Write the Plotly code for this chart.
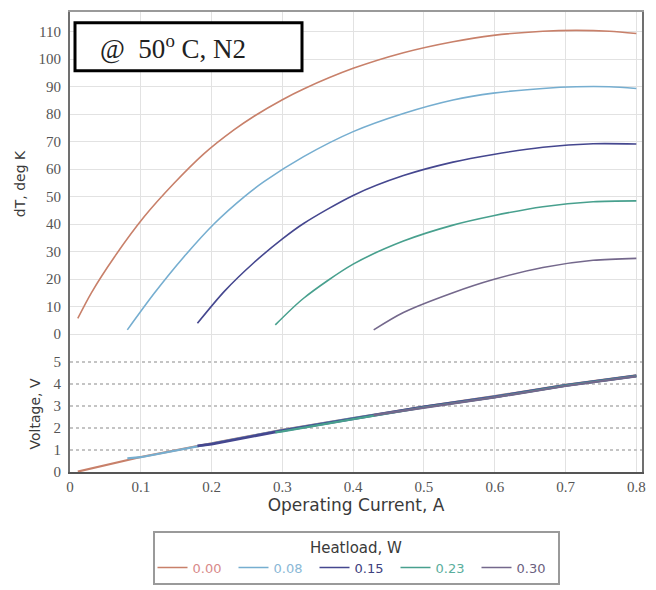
import plotly.graph_objects as go

# ---------------- data ----------------
heatloads = ["0.00", "0.08", "0.15", "0.23", "0.30"]
colors = ["#c8806a", "#76aed0", "#45478f", "#48a08e", "#74688c"]
text_colors = ["#d88a8a", "#8ab8d6", "#3e407e", "#5aae9c", "#6b6080"]

cur_000 = [0.011, 0.03, 0.063, 0.105, 0.147, 0.189, 0.232, 0.26, 0.30, 0.33, 0.40, 0.471, 0.541, 0.598, 0.668, 0.715, 0.762, 0.80]
dT_000 = [5.7, 14.9, 28.1, 42.7, 54.8, 65.5, 74.3, 79.2, 85.2, 89.1, 96.6, 102.3, 106.3, 108.6, 110.1, 110.4, 110.1, 109.3]

cur_008 = [0.081, 0.119, 0.161, 0.204, 0.246, 0.274, 0.33, 0.40, 0.471, 0.541, 0.598, 0.668, 0.715, 0.762, 0.80]
dT_008 = [1.5, 14.8, 28.1, 40.2, 49.9, 55.4, 64.5, 73.6, 80.2, 85.1, 87.6, 89.3, 89.9, 89.9, 89.3]

cur_015 = [0.18, 0.218, 0.26, 0.30, 0.33, 0.40, 0.471, 0.541, 0.598, 0.668, 0.739, 0.80]
dT_015 = [3.9, 15.5, 26.0, 34.6, 40.2, 50.4, 57.6, 62.5, 65.3, 67.9, 69.2, 69.1]

cur_023 = [0.29, 0.33, 0.40, 0.471, 0.541, 0.598, 0.668, 0.739, 0.80]
dT_023 = [3.3, 13.0, 25.4, 33.8, 39.6, 43.0, 46.3, 48.1, 48.4]

cur_030 = [0.429, 0.471, 0.541, 0.598, 0.668, 0.739, 0.80]
dT_030 = [1.5, 7.8, 15.0, 19.8, 24.2, 26.8, 27.5]

volt_cur = [0.011, 0.1, 0.2, 0.3, 0.4, 0.5, 0.6, 0.7, 0.8]
volt_000 = [0.02, 0.68, 1.30, 1.91, 2.45, 2.97, 3.44, 3.95, 4.38]
volt_008 = [0.62, 0.67, 1.29, 1.90, 2.44, 2.96, 3.43, 3.94, 4.37]
volt_015 = [1.18, 1.18, 1.26, 1.88, 2.42, 2.95, 3.41, 3.93, 4.36]
volt_023 = [1.80, 1.80, 1.80, 1.84, 2.40, 2.93, 3.39, 3.92, 4.35]
volt_030 = [2.58, 2.58, 2.58, 2.58, 2.58, 2.92, 3.38, 3.90, 4.34]
volt_start = [0.011, 0.081, 0.18, 0.29, 0.429]

x_ticks = [0, 0.1, 0.2, 0.3, 0.4, 0.5, 0.6, 0.7, 0.8]
x_ticklabels = ["0", "0.1", "0.2", "0.3", "0.4", "0.5", "0.6", "0.7", "0.8"]
dT_ticks = [0, 10, 20, 30, 40, 50, 60, 70, 80, 90, 100, 110]
v_ticks = [0, 1, 2, 3, 4, 5]

# ---------------- layout geometry ----------------
# page has an 8px body margin, so the figure is shifted by 8px
OFF = 8
W, H = 656 - OFF, 590 - OFF
PLOT_L, PLOT_R, PLOT_T, PLOT_B = 70, 642, 12, 472  # page px
ML, MR, MT, MB = PLOT_L - OFF, 656 - PLOT_R, PLOT_T - OFF, 590 - PLOT_B
PW, PH = PLOT_R - PLOT_L, PLOT_B - PLOT_T
split_px = 356  # boundary between panels (page px)


def px_x(p):
    return (p - PLOT_L) / PW


def px_y(p):
    return (PLOT_B - p) / PH


split = px_y(split_px)

curr_sets = [cur_000, cur_008, cur_015, cur_023, cur_030]
dT_sets = [dT_000, dT_008, dT_015, dT_023, dT_030]
volt_sets = [volt_000, volt_008, volt_015, volt_023, volt_030]

fig = go.Figure()
for i, hl in enumerate(heatloads):
    fig.add_trace(go.Scatter(
        x=curr_sets[i], y=dT_sets[i], mode="lines",
        line=dict(color=colors[i], width=1.6, shape="spline", smoothing=0.8),
        name=f"<span style='color:{text_colors[i]}'>{hl}</span>",
        legendgroup=hl, xaxis="x", yaxis="y",
    ))
for i, hl in enumerate(heatloads):
    xs = [volt_start[i]] + [c for c in volt_cur if c > volt_start[i]]
    ys = [volt_sets[i][0]] + [v for c, v in zip(volt_cur, volt_sets[i]) if c > volt_start[i]]
    fig.add_trace(go.Scatter(
        x=xs, y=ys, mode="lines",
        line=dict(color=colors[i], width=2.8 if i == 2 else 2.2),
        showlegend=False, legendgroup=hl, xaxis="x2", yaxis="y2",
    ))

tick_font = dict(family="Liberation Serif", size=15, color="#555555")
ytitle_font = dict(family="DejaVu Sans", size=14, color="#3a3a3a")
xtitle_font = dict(family="DejaVu Sans", size=17, color="#3a3a3a")
grid = "#e2e2e2"
axis_line = "#707070"

fig.update_layout(
    width=W, height=H,
    margin=dict(l=ML, r=MR, t=MT, b=MB, autoexpand=False),
    paper_bgcolor="white", plot_bgcolor="white",
    xaxis=dict(domain=[0, 1], range=[0, 0.808], anchor="y", tickvals=x_ticks,
               showticklabels=False, showgrid=True, gridcolor=grid, gridwidth=1,
               showline=True, side="top", linecolor="#9a9a9a", linewidth=2,
               zeroline=False, ticks=""),
    yaxis=dict(domain=[split, 1], range=[-8.0, 117.1], anchor="x", tickvals=dT_ticks,
               tickfont=tick_font, showgrid=True, gridcolor=grid, gridwidth=1,
               showline=True, mirror=True, linecolor=axis_line, linewidth=2,
               zeroline=False, ticks="", ticklabelstandoff=4,
               title=dict(text="dT, deg K", font=ytitle_font, standoff=10)),
    xaxis2=dict(domain=[0, 1], range=[0, 0.808], anchor="y2", tickvals=x_ticks,
                ticktext=x_ticklabels, tickfont=tick_font, showgrid=True,
                gridcolor=grid, gridwidth=1, showline=True, linecolor="#555555",
                linewidth=2, zeroline=False, ticks="",
                title=dict(text="Operating Current, A", font=xtitle_font, standoff=4)),
    yaxis2=dict(domain=[0, split], range=[0, 5.26], anchor="x2", tickvals=v_ticks,
                tickfont=tick_font, showgrid=True, gridcolor="#c4c4c4",
                griddash="dot", gridwidth=1.5, showline=True, mirror=True,
                linecolor=axis_line, linewidth=2, zeroline=False, ticks="",
                ticklabelstandoff=4,
                title=dict(text="Voltage, V", font=ytitle_font, standoff=10)),
    legend=dict(
        orientation="h", x=0.5, xanchor="center", y=px_y(531), yanchor="top",
        bordercolor="#9a9a9a", borderwidth=2, bgcolor="white",
        font=dict(family="DejaVu Sans", size=13),
        title=dict(text="Heatload, W", side="top center",
                   font=dict(family="DejaVu Sans", size=15, color="#3a3a3a")),
        itemwidth=30, tracegroupgap=0, entrywidth=36,
    ),
    shapes=[dict(type="rect", xref="paper", yref="paper",
                 x0=px_x(75), x1=px_x(302), y0=px_y(70.7), y1=px_y(22.7),
                 line=dict(color="black", width=3), fillcolor="white", layer="above")],
    annotations=[dict(text="@  50<sup>o</sup> C, N2", xref="paper", yref="paper",
                      x=px_x(98), y=px_y(47), xanchor="left", yanchor="middle",
                      showarrow=False,
                      font=dict(family="Liberation Serif", size=27, color="#222222"))],
)

fig.write_html("out.html")
